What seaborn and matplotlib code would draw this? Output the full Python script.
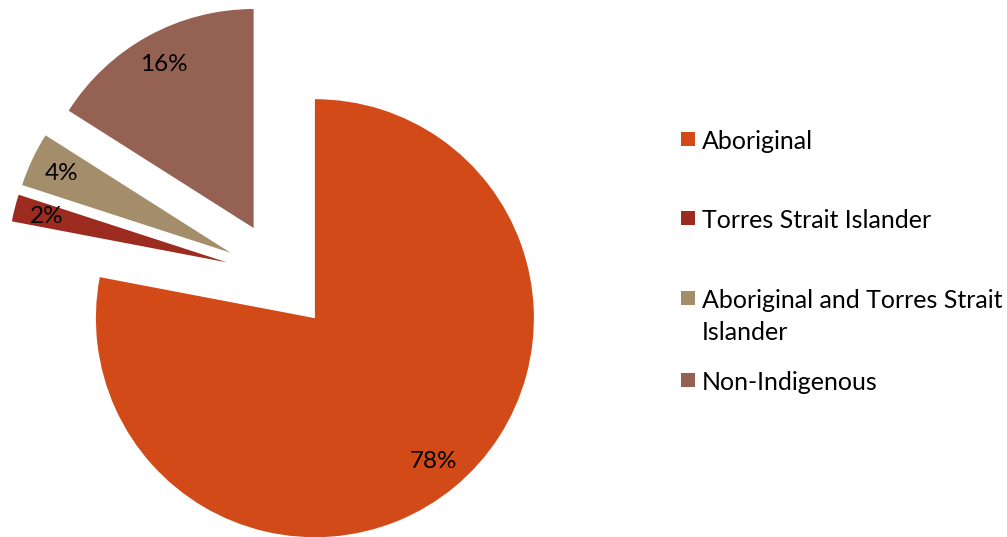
import matplotlib
matplotlib.use("Agg")
import matplotlib.pyplot as plt
import seaborn as sns
from matplotlib.patches import Rectangle

categories = ["Aboriginal", "Torres Strait Islander",
              "Aboriginal and Torres Strait\nIslander", "Non-Indigenous"]
values = [78, 2, 4, 16]
colors = ["#D24A18", "#9B2C1F", "#A38D6A", "#946152"]

sns.set_theme(style="white")
plt.rcParams["font.family"] = ["Lato", "DejaVu Sans"]

W, H = 1007, 537
fig = plt.figure(figsize=(W / 100, H / 100), dpi=100)
ax = fig.add_axes([0, 0, 1, 1])

wedges, texts, autotexts = ax.pie(
    values, colors=sns.color_palette(colors), startangle=90, counterclock=False,
    explode=[0.25] * len(values), radius=1, autopct="%.0f%%", pctdistance=0.85,
    wedgeprops=dict(linewidth=0, edgecolor="none"),
    textprops=dict(fontsize=17.5, color="black"))

# scale: 1 data unit = 219 px, pie centre at pixel (280, 276 from top)
R = 219.0
cx, cy = 280.0, H - 276.0
ax.set_aspect("auto")
ax.set_xlim(-cx / R, (W - cx) / R)
ax.set_ylim(-cy / R, (H - cy) / R)
ax.axis("off")

# legend (Excel-style, evenly spaced markers)
y_marks = [139, 218, 298, 380]
for lab, col, ym in zip(categories, colors, y_marks):
    fig.patches.append(Rectangle((681 / W, (H - ym - 7) / H), 14 / W, 14 / H,
                                 transform=fig.transFigure, facecolor=col,
                                 edgecolor="none"))
    fig.text(702 / W, (H - ym + 9) / H, lab, fontsize=18, color="black",
             ha="left", va="top", linespacing=1.45)

fig.savefig("out.png", dpi=100, facecolor="white")
